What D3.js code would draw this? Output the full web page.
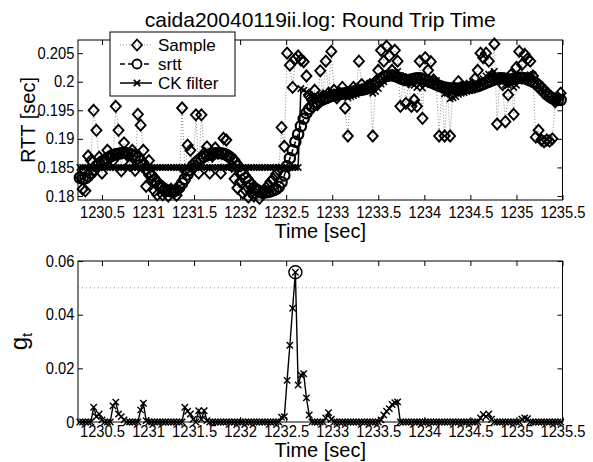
<!DOCTYPE html>
<html lang="en">
<head>
<meta charset="UTF-8">
<title>caida20040119ii.log: Round Trip Time</title>
<script src="https://d3js.org/d3.v7.min.js"></script>
<style>
  body { margin: 0; background: #fff; font-family: "Liberation Sans", Arial, sans-serif; }
  svg { display: block; }
</style>
</head>
<body>
<div id="chart"></div>
<script>
// sample times [sec]
const times = [
  1230.26, 1230.29, 1230.32, 1230.35, 1230.38, 1230.41, 1230.44, 1230.47, 1230.50, 1230.53,
  1230.56, 1230.59, 1230.62, 1230.65, 1230.68, 1230.71, 1230.74, 1230.77, 1230.80, 1230.83,
  1230.86, 1230.89, 1230.92, 1230.95, 1230.98, 1231.01, 1231.04, 1231.07, 1231.10, 1231.13,
  1231.16, 1231.19, 1231.22, 1231.25, 1231.28, 1231.31, 1231.34, 1231.37, 1231.40, 1231.43,
  1231.46, 1231.49, 1231.52, 1231.55, 1231.58, 1231.61, 1231.64, 1231.67, 1231.70, 1231.73,
  1231.76, 1231.79, 1231.82, 1231.85, 1231.88, 1231.91, 1231.94, 1231.97, 1232.00, 1232.03,
  1232.06, 1232.09, 1232.12, 1232.15, 1232.18, 1232.21, 1232.24, 1232.27, 1232.30, 1232.33,
  1232.36, 1232.39, 1232.42, 1232.45, 1232.48, 1232.51, 1232.54, 1232.57, 1232.60, 1232.63,
  1232.66, 1232.69, 1232.72, 1232.75, 1232.78, 1232.81, 1232.84, 1232.87, 1232.90, 1232.93,
  1232.96, 1232.99, 1233.02, 1233.05, 1233.08, 1233.11, 1233.14, 1233.17, 1233.20, 1233.23,
  1233.26, 1233.29, 1233.32, 1233.35, 1233.38, 1233.41, 1233.44, 1233.47, 1233.50, 1233.53,
  1233.56, 1233.59, 1233.62, 1233.65, 1233.68, 1233.71, 1233.74, 1233.77, 1233.80, 1233.83,
  1233.86, 1233.89, 1233.92, 1233.95, 1233.98, 1234.01, 1234.04, 1234.07, 1234.10, 1234.13,
  1234.16, 1234.19, 1234.22, 1234.25, 1234.28, 1234.31, 1234.34, 1234.37, 1234.40, 1234.43,
  1234.46, 1234.49, 1234.52, 1234.55, 1234.58, 1234.61, 1234.64, 1234.67, 1234.70, 1234.73,
  1234.76, 1234.79, 1234.82, 1234.85, 1234.88, 1234.91, 1234.94, 1234.97, 1235.00, 1235.03,
  1235.06, 1235.09, 1235.12, 1235.15, 1235.18, 1235.21, 1235.24, 1235.27, 1235.30, 1235.33,
  1235.36, 1235.39, 1235.42, 1235.45, 1235.48
];

// raw RTT samples [sec]
const sampleRtt = [
  0.1835, 0.1812, 0.1809, 0.1870, 0.1862, 0.1950, 0.1915, 0.1868, 0.1840, 0.1862,
  0.1880, 0.1870, 0.1862, 0.1957, 0.1915, 0.1844, 0.1893, 0.1872, 0.1854, 0.1880,
  0.1845, 0.1943, 0.1924, 0.1880, 0.1817, 0.1862, 0.1837, 0.1809, 0.1802, 0.1815,
  0.1802, 0.1808, 0.1800, 0.1812, 0.1806, 0.1801, 0.1818, 0.1954, 0.1845, 0.1889,
  0.1880, 0.1848, 0.1942, 0.1840, 0.1942, 0.1875, 0.1886, 0.1840, 0.1870, 0.1884,
  0.1875, 0.1840, 0.1901, 0.1898, 0.1868, 0.1852, 0.1830, 0.1814, 0.1825, 0.1805,
  0.1810, 0.1798, 0.1806, 0.1800, 0.1812, 0.1796, 0.1805, 0.1810, 0.1818, 0.1825,
  0.1830, 0.1838, 0.1845, 0.1920, 0.1887, 0.2050, 0.2029, 0.1990, 0.2040, 0.2045,
  0.2038, 0.2035, 0.2010, 0.1975, 0.1968, 0.1985, 0.1960, 0.2019, 0.1975, 0.2036,
  0.1980, 0.2053, 0.1985, 0.1972, 0.1980, 0.1990, 0.1954, 0.1905, 0.1982, 0.1990,
  0.1985, 0.2036, 0.1995, 0.1988, 0.1992, 0.1995, 0.1905, 0.2000, 0.2020, 0.2055,
  0.2036, 0.2062, 0.2045, 0.2020, 0.2055, 0.2036, 0.1957, 0.2005, 0.1962, 0.2000,
  0.1957, 0.1968, 0.1957, 0.2036, 0.1936, 0.2042, 0.2020, 0.2035, 0.2003, 0.1995,
  0.1905, 0.1990, 0.1905, 0.1988, 0.1905, 0.1988, 0.1985, 0.2000, 0.1990, 0.1988,
  0.1992, 0.1990, 0.1995, 0.2005, 0.2020, 0.2050, 0.2042, 0.2050, 0.2036, 0.2010,
  0.2066, 0.1926, 0.2005, 0.1995, 0.1930, 0.1977, 0.2012, 0.1943, 0.2025, 0.2053,
  0.2030, 0.2048, 0.2040, 0.2036, 0.2010, 0.1903, 0.1915, 0.1898, 0.1895, 0.1898,
  0.1896, 0.1900, 0.1965, 0.1972, 0.1980
];

// smoothed RTT [sec]
const srtt = [
  0.1832, 0.1830, 0.1831, 0.1835, 0.1840, 0.1846, 0.1852, 0.1856, 0.1860, 0.1863,
  0.1866, 0.1869, 0.1871, 0.1873, 0.1874, 0.1875, 0.1876, 0.1875, 0.1874, 0.1872,
  0.1870, 0.1866, 0.1861, 0.1855, 0.1848, 0.1841, 0.1834, 0.1828, 0.1822, 0.1818,
  0.1814, 0.1811, 0.1809, 0.1808, 0.1808, 0.1810, 0.1815, 0.1822, 0.1830, 0.1838,
  0.1846, 0.1853, 0.1858, 0.1862, 0.1866, 0.1869, 0.1871, 0.1873, 0.1874, 0.1875,
  0.1875, 0.1875, 0.1874, 0.1872, 0.1869, 0.1865, 0.1859, 0.1852, 0.1845, 0.1838,
  0.1831, 0.1825, 0.1819, 0.1814, 0.1811, 0.1808, 0.1806, 0.1806, 0.1807, 0.1808,
  0.1810, 0.1812, 0.1816, 0.1824, 0.1836, 0.1852, 0.1866, 0.1880, 0.1895, 0.1908,
  0.1922, 0.1935, 0.1945, 0.1952, 0.1957, 0.1961, 0.1964, 0.1967, 0.1969, 0.1971,
  0.1973, 0.1975, 0.1976, 0.1977, 0.1978, 0.1979, 0.1980, 0.1981, 0.1982, 0.1983,
  0.1984, 0.1985, 0.1986, 0.1987, 0.1988, 0.1990, 0.1993, 0.1997, 0.2001, 0.2005,
  0.2008, 0.2010, 0.2011, 0.2011, 0.2010, 0.2008, 0.2006, 0.2004, 0.2003, 0.2003,
  0.2004, 0.2005, 0.2006, 0.2006, 0.2005, 0.2003, 0.2001, 0.1999, 0.1997, 0.1995,
  0.1993, 0.1991, 0.1990, 0.1989, 0.1988, 0.1988, 0.1988, 0.1988, 0.1988, 0.1989,
  0.1989, 0.1990, 0.1990, 0.1991, 0.1992, 0.1994, 0.1996, 0.1998, 0.2000, 0.2002,
  0.2004, 0.2005, 0.2006, 0.2006, 0.2005, 0.2004, 0.2004, 0.2005, 0.2006, 0.2007,
  0.2007, 0.2006, 0.2004, 0.2002, 0.2000, 0.1997, 0.1993, 0.1988, 0.1983, 0.1978,
  0.1974, 0.1971, 0.1969, 0.1968, 0.1968
];

// change-point (CK) filter output [sec]
const ckFilter = [
  0.185, 0.185, 0.185, 0.185, 0.185, 0.185, 0.185, 0.185, 0.185, 0.185,
  0.185, 0.185, 0.185, 0.185, 0.185, 0.185, 0.185, 0.185, 0.185, 0.185,
  0.185, 0.185, 0.185, 0.185, 0.185, 0.185, 0.185, 0.185, 0.185, 0.185,
  0.185, 0.185, 0.185, 0.185, 0.185, 0.185, 0.185, 0.185, 0.185, 0.185,
  0.185, 0.185, 0.185, 0.185, 0.185, 0.185, 0.185, 0.185, 0.185, 0.185,
  0.185, 0.185, 0.185, 0.185, 0.185, 0.185, 0.185, 0.185, 0.185, 0.185,
  0.185, 0.185, 0.185, 0.185, 0.185, 0.185, 0.185, 0.185, 0.185, 0.185,
  0.185, 0.185, 0.185, 0.185, 0.185, 0.185, 0.185, 0.185, 0.185, 0.185,
  0.1988, 0.1985, 0.1982, 0.1978, 0.1975, 0.1976, 0.1974, 0.1977, 0.1976, 0.1979,
  0.1978, 0.1982, 0.1982, 0.1980, 0.1980, 0.1981, 0.1978, 0.1972, 0.1974, 0.1976,
  0.1978, 0.1984, 0.1985, 0.1986, 0.1987, 0.1988, 0.1980, 0.1983, 0.1988, 0.1996,
  0.2000, 0.2007, 0.2010, 0.2011, 0.2016, 0.2018, 0.2010, 0.2009, 0.2003, 0.2003,
  0.1997, 0.1994, 0.1990, 0.1996, 0.1989, 0.1995, 0.1998, 0.2003, 0.2003, 0.2002,
  0.1990, 0.1990, 0.1979, 0.1980, 0.1970, 0.1972, 0.1974, 0.1978, 0.1980, 0.1981,
  0.1983, 0.1984, 0.1985, 0.1988, 0.1992, 0.2000, 0.2005, 0.2010, 0.2013, 0.2012,
  0.2018, 0.2005, 0.2005, 0.2004, 0.1995, 0.1994, 0.1996, 0.1990, 0.1994, 0.2001,
  0.2004, 0.2009, 0.2011, 0.2012, 0.2012, 0.2000, 0.1993, 0.1986, 0.1980, 0.1975,
  0.1972, 0.1969, 0.1970, 0.1972, 0.1974
];

// detection statistic g_t
const gt = [
  0, 0, 0, 0, 0, 0.0055, 0.0020, 0.0030, 0.0008, 0,
  0, 0, 0.0060, 0.0074, 0.0030, 0.0020, 0.0008, 0, 0, 0,
  0, 0, 0.0045, 0.0070, 0.0005, 0, 0, 0, 0, 0,
  0, 0, 0, 0, 0, 0, 0, 0, 0.0055, 0.0040,
  0.0030, 0.0010, 0, 0.0042, 0.0010, 0.0042, 0.0005, 0, 0, 0,
  0, 0, 0, 0, 0, 0, 0, 0, 0, 0,
  0, 0, 0, 0, 0, 0, 0, 0, 0, 0,
  0, 0, 0, 0.0018, 0.0020, 0.0155, 0.0286, 0.0424, 0.0558, 0.0138,
  0.0175, 0.0180, 0.0090, 0.0026, 0, 0, 0, 0, 0, 0.0015,
  0.0035, 0.0010, 0, 0, 0, 0, 0, 0, 0, 0,
  0, 0, 0, 0, 0, 0, 0, 0, 0, 0.0008,
  0.0026, 0.0040, 0.0050, 0.0065, 0.0072, 0.0075, 0, 0, 0, 0,
  0, 0, 0, 0, 0, 0, 0, 0, 0, 0,
  0, 0, 0, 0, 0, 0, 0, 0, 0, 0,
  0, 0, 0, 0, 0, 0.0015, 0.0028, 0.0020, 0.0030, 0.0010,
  0, 0, 0, 0, 0, 0, 0, 0, 0, 0,
  0.0010, 0.0015, 0.0012, 0, 0, 0, 0, 0, 0, 0,
  0, 0, 0, 0, 0
];

const threshold = 0.05;
const timeTicks = [1230.5, 1231, 1231.5, 1232, 1232.5, 1233, 1233.5, 1234, 1234.5, 1235, 1235.5];
const rttTicks = [0.18, 0.185, 0.19, 0.195, 0.2, 0.205];
const gTicks = [0, 0.02, 0.04, 0.06];
const legendLabels = ["Sample", "srtt", "CK filter"];

const W = 593, H = 462;
const FONT = "'Liberation Sans', Arial, Helvetica, sans-serif";
const left = 78, right = 562.5;
const topPanel = { top: 40, bottom: 200 };
const botPanel = { top: 261, bottom: 422 };

const svg = d3.select("#chart").append("svg")
    .attr("width", W)
    .attr("height", H)
    .style("background", "#fff");

const x = d3.scaleLinear().domain([1230.24, 1235.5]).range([left, right]);
const yRtt = d3.scaleLinear().domain([0.1793, 0.2073]).range([topPanel.bottom, topPanel.top]);
const yG = d3.scaleLinear().domain([0, 0.06]).range([botPanel.bottom, botPanel.top]);

const data = times.map((t, i) => ({ t, sample: sampleRtt[i], srtt: srtt[i], ck: ckFilter[i], g: gt[i] }));

const diamond = "M0,-5.5L5,0L0,5.5L-5,0Z";
const cross = "M-3.2,-3.2L3.2,3.2M-3.2,3.2L3.2,-3.2";

// ---- top panel: RTT ----
const topG = svg.append("g");

topG.append("path")
    .datum(data)
    .attr("d", d3.line().x(d => x(d.t)).y(d => yRtt(d.sample)))
    .attr("fill", "none")
    .attr("stroke", "#8c8c8c")
    .attr("stroke-width", 1)
    .attr("stroke-dasharray", "1,2");

topG.selectAll(".dia")
    .data(data)
    .join("path")
    .attr("class", "dia")
    .attr("d", diamond)
    .attr("transform", d => `translate(${x(d.t)},${yRtt(d.sample)})`)
    .attr("fill", "none")
    .attr("stroke", "#000")
    .attr("stroke-width", 1.9);

topG.append("path")
    .datum(data)
    .attr("d", d3.line().x(d => x(d.t)).y(d => yRtt(d.srtt)))
    .attr("fill", "none")
    .attr("stroke", "#000")
    .attr("stroke-width", 1.5)
    .attr("stroke-dasharray", "5,3");

topG.selectAll(".circ")
    .data(data)
    .join("circle")
    .attr("class", "circ")
    .attr("cx", d => x(d.t))
    .attr("cy", d => yRtt(d.srtt))
    .attr("r", 5.2)
    .attr("fill", "none")
    .attr("stroke", "#000")
    .attr("stroke-width", 2.1);

topG.append("path")
    .datum(data)
    .attr("d", d3.line().x(d => x(d.t)).y(d => yRtt(d.ck)))
    .attr("fill", "none")
    .attr("stroke", "#000")
    .attr("stroke-width", 1.5);

// CK line starts at the left axis
topG.append("line")
    .attr("x1", left).attr("x2", x(times[0]))
    .attr("y1", yRtt(ckFilter[0])).attr("y2", yRtt(ckFilter[0]))
    .attr("stroke", "#000").attr("stroke-width", 1.5);

topG.selectAll(".ckx")
    .data(data)
    .join("path")
    .attr("class", "ckx")
    .attr("d", cross)
    .attr("transform", d => `translate(${x(d.t)},${yRtt(d.ck)})`)
    .attr("fill", "none")
    .attr("stroke", "#000")
    .attr("stroke-width", 1.6);

// ---- bottom panel: g_t ----
const botG = svg.append("g");

botG.append("line")
    .attr("x1", left).attr("x2", right)
    .attr("y1", yG(threshold)).attr("y2", yG(threshold))
    .attr("stroke", "#8c8c8c")
    .attr("stroke-width", 1)
    .attr("stroke-dasharray", "1,3");

botG.append("path")
    .datum(data)
    .attr("d", d3.line().x(d => x(d.t)).y(d => yG(d.g)))
    .attr("fill", "none")
    .attr("stroke", "#000")
    .attr("stroke-width", 1.4);

botG.selectAll(".gx")
    .data(data)
    .join("path")
    .attr("class", "gx")
    .attr("d", cross)
    .attr("transform", d => `translate(${x(d.t)},${yG(d.g)})`)
    .attr("fill", "none")
    .attr("stroke", "#000")
    .attr("stroke-width", 1.4);

// detection point (g_t above threshold)
const peak = data[d3.maxIndex(data, d => d.g)];
botG.append("circle")
    .attr("cx", x(peak.t))
    .attr("cy", yG(peak.g))
    .attr("r", 6.5)
    .attr("fill", "none")
    .attr("stroke", "#000")
    .attr("stroke-width", 1.4);

// ---- axes ----
const fmt = d3.format("~g");

function styleAxis(g) {
    g.attr("font-size", 16).attr("font-family", FONT);
    g.select(".domain").remove();
    g.selectAll(".tick line").attr("stroke", "#000");
    g.selectAll(".tick text")
        .attr("fill", "#000")
        .attr("transform", "scale(0.92,1)");
}

function drawFrame(y, ticks, panel, xPad) {
    svg.append("g")
        .attr("transform", `translate(0,${panel.bottom})`)
        .call(d3.axisBottom(x).tickValues(timeTicks).tickSize(-5).tickPadding(xPad).tickFormat(fmt))
        .call(styleAxis);
    svg.append("g")
        .attr("transform", `translate(0,${panel.top})`)
        .call(d3.axisTop(x).tickValues(timeTicks).tickSize(-5).tickFormat(""))
        .call(styleAxis);
    svg.append("g")
        .attr("transform", `translate(${left},0)`)
        .call(d3.axisLeft(y).tickValues(ticks).tickSize(-5).tickPadding(4).tickFormat(fmt))
        .call(styleAxis);
    svg.append("g")
        .attr("transform", `translate(${right},0)`)
        .call(d3.axisRight(y).tickValues(ticks).tickSize(-5).tickFormat(""))
        .call(styleAxis);
    svg.append("rect")
        .attr("x", left)
        .attr("y", panel.top)
        .attr("width", right - left)
        .attr("height", panel.bottom - panel.top)
        .attr("fill", "none")
        .attr("stroke", "#000")
        .attr("stroke-width", 1);
}

drawFrame(yRtt, rttTicks, topPanel, 7);
drawFrame(yG, gTicks, botPanel, 4);

// ---- texts ----
const cx = (left + right) / 2;

svg.append("text")
    .attr("x", cx).attr("y", 27)
    .attr("text-anchor", "middle")
    .attr("font-family", FONT).attr("font-size", 21)
    .text("caida20040119ii.log: Round Trip Time");

svg.append("text")
    .attr("x", cx).attr("y", 238)
    .attr("text-anchor", "middle")
    .attr("font-family", FONT).attr("font-size", 20)
    .text("Time [sec]");

svg.append("text")
    .attr("x", cx).attr("y", 457)
    .attr("text-anchor", "middle")
    .attr("font-family", FONT).attr("font-size", 20)
    .text("Time [sec]");

svg.append("text")
    .attr("transform", `translate(35,${(topPanel.top + topPanel.bottom) / 2}) rotate(-90)`)
    .attr("text-anchor", "middle")
    .attr("font-family", FONT).attr("font-size", 20)
    .text("RTT [sec]");

const gLabel = svg.append("text")
    .attr("transform", `translate(27,${(botPanel.top + botPanel.bottom) / 2}) rotate(-90)`)
    .attr("text-anchor", "middle")
    .attr("font-family", FONT).attr("font-size", 24);
gLabel.append("tspan").text("g");
gLabel.append("tspan").attr("font-size", 15).attr("dy", 5).text("t");

// ---- legend ----
const legend = svg.append("g").attr("transform", "translate(110,32)");
legend.append("rect")
    .attr("width", 125).attr("height", 64)
    .attr("fill", "#fff").attr("stroke", "#000").attr("stroke-width", 1);

const rows = legend.selectAll(".row")
    .data(legendLabels)
    .join("g")
    .attr("class", "row")
    .attr("transform", (d, i) => `translate(0,${13 + i * 19})`);

rows.append("line")
    .attr("x1", 10).attr("x2", 42)
    .attr("stroke", (d, i) => i === 0 ? "#8c8c8c" : "#000")
    .attr("stroke-width", (d, i) => i === 0 ? 1 : 1.5)
    .attr("stroke-dasharray", (d, i) => i === 0 ? "1,2" : i === 1 ? "5,3" : null);

rows.append("path")
    .attr("transform", "translate(27,0)")
    .attr("d", (d, i) => i === 0 ? diamond : i === 2 ? cross : d3.symbol(d3.symbolCircle, 64)())
    .attr("fill", (d, i) => i === 1 ? "#fff" : "none")
    .attr("stroke", "#000")
    .attr("stroke-width", 1.8);

rows.append("text")
    .attr("x", 48).attr("y", 6)
    .attr("font-family", FONT).attr("font-size", 17)
    .text(d => d);
</script>
</body>
</html>
